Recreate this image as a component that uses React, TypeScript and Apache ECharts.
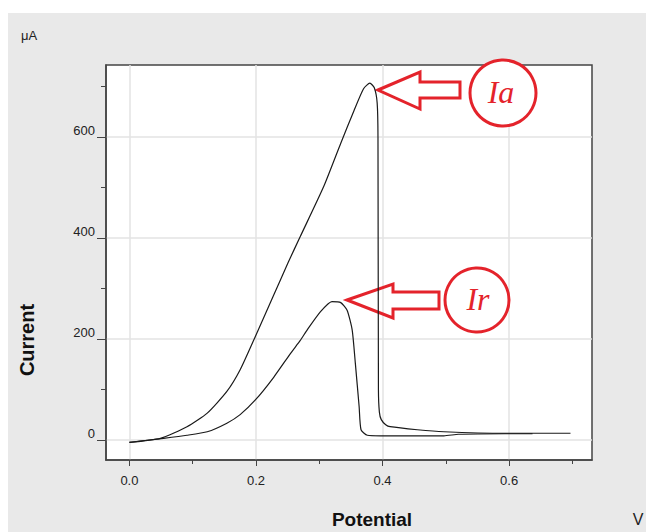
import React, { useEffect, useRef } from 'react';
import * as echarts from 'echarts';

// Anodic sweep curve (Ia)
const iaPotential = [0, 0.049, 0.091, 0.123, 0.154, 0.175, 0.199, 0.227, 0.251, 0.270, 0.307, 0.334, 0.355, 0.370, 0.380, 0.387, 0.3915, 0.3928, 0.3935, 0.395, 0.398, 0.405, 0.412, 0.455, 0.497, 0.594, 0.697];
const iaCurrent = [-5, 3, 26, 53, 96, 139, 205, 284, 352, 403, 502, 588, 653, 696, 707, 698, 668, 600, 100, 55, 40, 30, 26, 20, 16, 13, 13];

// Reverse curve (Ir)
const irPotential = [0, 0.054, 0.091, 0.123, 0.154, 0.175, 0.199, 0.228, 0.255, 0.270, 0.281, 0.302, 0.320, 0.334, 0.344, 0.352, 0.357, 0.363, 0.366, 0.376, 0.397, 0.497, 0.52, 0.594, 0.637];
const irCurrent = [-5, 3, 9, 16, 33, 50, 79, 124, 172, 197, 218, 254, 274, 272, 257, 218, 152, 66, 20, 9, 8, 8, 11, 12, 12];

const xMajorTicks = [0, 0.2, 0.4, 0.6];
const yMajorTicks = [0, 200, 400, 600];

const SANS = '"Liberation Sans", Arial, sans-serif';
const RED = '#e4232b';

export default function App() {
  const ref = useRef<HTMLDivElement>(null);
  useEffect(() => {
    const chart = echarts.init(ref.current!, null, { renderer: 'svg' });
    const arrowStyle = { fill: 'none', stroke: RED, lineWidth: 3, lineJoin: 'miter' };
    chart.setOption({
      animation: false,
      backgroundColor: '#e9e9e9',
      grid: {
        left: 106, top: 65, right: 54, bottom: 72,
        show: true, backgroundColor: '#ffffff', borderColor: '#444', borderWidth: 1.5,
        containLabel: false, outerBoundsMode: 'none',
      },
      xAxis: {
        type: 'value', min: -0.037, max: 0.731, splitNumber: 4,
        axisLine: { show: true, onZero: false, lineStyle: { color: '#444', width: 1.5 } },
        axisTick: { show: true, customValues: xMajorTicks, length: 6, lineStyle: { color: '#444' } },
        minorTick: { show: true, splitNumber: 2, length: 4, lineStyle: { color: '#444' } },
        axisLabel: { customValues: xMajorTicks, formatter: (v: number) => v.toFixed(1), margin: 14, color: '#222', fontSize: 13, fontFamily: SANS },
        splitLine: { show: true, lineStyle: { color: '#e3e3e3', width: 1.5 } },
        minorSplitLine: { show: false },
      },
      yAxis: {
        type: 'value', min: -40, max: 743, splitNumber: 4,
        axisLine: { show: true, onZero: false, lineStyle: { color: '#444', width: 1.5 } },
        axisTick: { show: true, customValues: yMajorTicks, length: 9, lineStyle: { color: '#444' } },
        minorTick: { show: true, splitNumber: 2, length: 5, lineStyle: { color: '#444' } },
        axisLabel: { customValues: yMajorTicks, margin: 11, color: '#222', fontSize: 13, fontFamily: SANS, verticalAlign: 'bottom' },
        splitLine: { show: true, lineStyle: { color: '#e3e3e3', width: 1.5 } },
        minorSplitLine: { show: false },
      },
      series: [
        {
          name: 'Ia', type: 'line', symbol: 'none', smooth: 0.2, z: 3,
          lineStyle: { color: '#1a1a1a', width: 1.2 },
          data: iaPotential.map((x, i) => [x, iaCurrent[i]]),
        },
        {
          name: 'Ir', type: 'line', symbol: 'none', smooth: 0.2, z: 3,
          lineStyle: { color: '#1a1a1a', width: 1.2 },
          data: irPotential.map((x, i) => [x, irCurrent[i]]),
        },
      ],
      graphic: [
        { type: 'rect', silent: true, shape: { x: 0, y: 0, width: 646, height: 13 }, style: { fill: '#ffffff' } },
        { type: 'rect', silent: true, shape: { x: 0, y: 0, width: 8, height: 532 }, style: { fill: '#ffffff' } },
        { type: 'text', x: 21, y: 29, style: { text: 'μA', fontSize: 13, fontFamily: SANS, fill: '#222' } },
        { type: 'text', x: 27, y: 340, rotation: Math.PI / 2, style: { text: 'Current', fontSize: 20, fontWeight: 'bold', fontFamily: SANS, fill: '#111', align: 'center', verticalAlign: 'middle' } },
        { type: 'text', x: 372, y: 519, style: { text: 'Potential', fontSize: 19, fontWeight: 'bold', fontFamily: SANS, fill: '#111', align: 'center', verticalAlign: 'middle' } },
        { type: 'text', x: 638, y: 519, style: { text: 'V', fontSize: 16, fontFamily: SANS, fill: '#222', align: 'center', verticalAlign: 'middle' } },
        {
          type: 'polygon', z: 1, silent: true,
          shape: { points: [[378, 90], [420, 72], [420, 82], [460, 82], [460, 98], [420, 98], [420, 109]] },
          style: arrowStyle,
        },
        {
          type: 'polygon', z: 1, silent: true,
          shape: { points: [[347, 300], [393, 284], [393, 292], [439, 292], [439, 309], [393, 309], [393, 318]] },
          style: arrowStyle,
        },
        { type: 'circle', z: 1, silent: true, shape: { cx: 503, cy: 93, r: 33 }, style: { fill: '#ffffff', stroke: RED, lineWidth: 3 } },
        { type: 'circle', z: 1, silent: true, shape: { cx: 477, cy: 300, r: 32 }, style: { fill: '#ffffff', stroke: RED, lineWidth: 3 } },
        { type: 'text', z: 2, x: 501, y: 92, style: { text: 'Ia', fontSize: 32, fontStyle: 'italic', fontFamily: '"Liberation Serif", "Times New Roman", serif', fill: RED, align: 'center', verticalAlign: 'middle' } },
        { type: 'text', z: 2, x: 478, y: 299, style: { text: 'Ir', fontSize: 32, fontStyle: 'italic', fontFamily: '"Liberation Serif", "Times New Roman", serif', fill: RED, align: 'center', verticalAlign: 'middle' } },
      ],
    });
    return () => chart.dispose();
  }, []);
  return (
    <div style={{ position: 'fixed', left: 0, top: 0, width: 646, height: 532, background: '#fff' }}>
      <div ref={ref} style={{ width: 646, height: 532 }} />
    </div>
  );
}
